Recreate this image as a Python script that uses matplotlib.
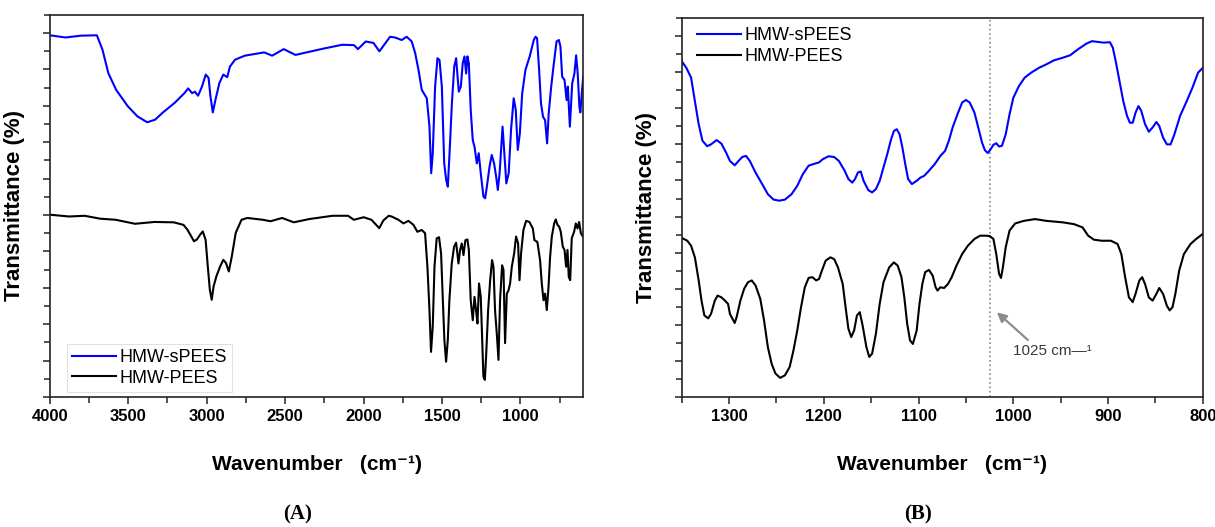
import matplotlib
matplotlib.use('Agg')
import matplotlib.pyplot as plt
from matplotlib.ticker import MultipleLocator, NullFormatter

plt.rcParams['font.family'] = ['Liberation Sans', 'DejaVu Sans']

# --- (A) full range spectra, 4000-600 cm-1 (offset transmittance, arb. units)
a_wn_spees = [4000, 3900, 3800, 3700, 3664, 3627, 3577, 3503, 3441, 3379, 3329, 3279, 3205, 3142,
              3118, 3093, 3075, 3055, 3030, 3006, 2988, 2976, 2961, 2944, 2919, 2894, 2869, 2852,
              2819, 2757, 2633, 2583, 2509, 2434, 2384, 2260, 2136, 2061, 2036, 1986, 1937, 1899,
              1831, 1800, 1757, 1725, 1693, 1671, 1650, 1629, 1597, 1580, 1569, 1559, 1544, 1529,
              1516, 1501, 1486, 1473, 1463, 1452, 1437, 1422, 1410, 1402, 1393, 1380, 1368, 1357,
              1346, 1338, 1329, 1317, 1304, 1293, 1278, 1266, 1253, 1236, 1225, 1214, 1197, 1183,
              1168, 1155, 1144, 1133, 1122, 1114, 1103, 1090, 1075, 1060, 1043, 1030, 1017, 1004,
              989, 968, 941, 915, 904, 894, 881, 869, 856, 843, 830, 820, 804, 787, 770, 755, 745,
              734, 719, 706, 698, 685, 670, 656, 645, 635, 624, 618, 609, 600]
a_t_spees = [9.94, 9.88, 9.93, 9.94, 9.54, 8.90, 8.44, 7.99, 7.71, 7.55, 7.62, 7.82, 8.08, 8.35,
             8.48, 8.35, 8.39, 8.28, 8.53, 8.86, 8.77, 8.26, 7.82, 8.17, 8.63, 8.86, 8.79, 9.08,
             9.27, 9.38, 9.47, 9.38, 9.56, 9.40, 9.45, 9.57, 9.68, 9.67, 9.56, 9.77, 9.73, 9.50,
             9.90, 9.88, 9.81, 9.90, 9.77, 9.45, 8.99, 8.44, 8.21, 7.43, 6.15, 6.70, 8.53, 9.31,
             9.26, 8.53, 6.42, 5.96, 5.78, 6.70, 8.07, 9.08, 9.31, 8.89, 8.39, 8.53, 9.17, 9.36,
             8.89, 9.36, 9.17, 7.89, 7.06, 6.88, 6.42, 6.70, 6.15, 5.51, 5.46, 5.78, 6.33, 6.65,
             6.42, 6.06, 5.69, 6.15, 6.88, 7.43, 6.70, 5.87, 6.15, 7.34, 8.21, 7.89, 6.79, 7.24,
             8.34, 8.99, 9.36, 9.81, 9.90, 9.86, 8.99, 8.07, 7.70, 7.61, 6.97, 7.79, 8.53, 9.17,
             9.77, 9.81, 9.63, 8.80, 8.71, 8.16, 8.53, 7.43, 8.62, 8.89, 9.39, 8.89, 7.96, 7.82,
             8.34, 8.80]

a_wn_pees = [4000, 3877, 3778, 3679, 3580, 3457, 3333, 3210, 3148, 3123, 3098, 3081, 3062, 3042,
             3025, 3007, 2993, 2980, 2968, 2956, 2938, 2914, 2894, 2877, 2859, 2840, 2815, 2778,
             2741, 2642, 2593, 2519, 2445, 2346, 2198, 2099, 2062, 1999, 1950, 1900, 1874, 1840,
             1821, 1778, 1746, 1714, 1682, 1657, 1629, 1608, 1593, 1580, 1570, 1559, 1548, 1534,
             1519, 1506, 1495, 1485, 1474, 1463, 1453, 1438, 1423, 1410, 1395, 1385, 1374, 1363,
             1351, 1338, 1329, 1317, 1304, 1293, 1283, 1274, 1264, 1253, 1244, 1236, 1227, 1219,
             1206, 1193, 1181, 1172, 1162, 1151, 1140, 1130, 1117, 1108, 1098, 1087, 1076, 1066,
             1055, 1040, 1028, 1015, 1006, 996, 981, 964, 943, 921, 911, 892, 875, 864, 853, 843,
             832, 821, 811, 800, 785, 775, 764, 753, 743, 730, 719, 709, 700, 692, 683, 673, 658,
             647, 636, 626, 615, 602]
a_t_pees = [5.01, 4.96, 4.98, 4.90, 4.87, 4.76, 4.81, 4.80, 4.73, 4.60, 4.41, 4.28, 4.33, 4.46,
            4.55, 4.32, 3.59, 2.95, 2.67, 3.04, 3.32, 3.59, 3.77, 3.68, 3.45, 3.86, 4.51, 4.87,
            4.92, 4.87, 4.83, 4.92, 4.80, 4.89, 4.98, 4.98, 4.87, 4.94, 4.87, 4.64, 4.85, 4.98,
            4.96, 4.87, 4.77, 4.84, 4.73, 4.54, 4.59, 4.50, 3.58, 2.39, 1.24, 1.94, 3.58, 4.36,
            4.39, 3.95, 2.66, 1.57, 0.97, 1.57, 2.66, 3.67, 4.13, 4.24, 3.67, 4.04, 4.22, 3.90,
            4.31, 4.33, 4.04, 2.66, 2.11, 2.75, 2.39, 2.02, 3.12, 2.75, 1.57, 0.56, 0.47, 1.11,
            2.39, 3.21, 3.76, 3.58, 2.39, 1.75, 1.02, 2.66, 3.62, 3.49, 1.48, 2.84, 2.93, 3.12,
            3.58, 3.95, 4.41, 4.22, 3.21, 3.95, 4.59, 4.84, 4.81, 4.63, 4.31, 4.26, 3.76, 3.12,
            2.66, 2.84, 2.39, 3.03, 3.85, 4.41, 4.77, 4.88, 4.73, 4.68, 4.54, 4.13, 4.04, 3.58,
            4.04, 3.30, 3.21, 4.36, 4.54, 4.77, 4.63, 4.81, 4.50, 4.41]

# --- (B) expanded 1350-800 cm-1 region
b_wn_spees = [1350, 1345, 1340, 1336, 1332, 1328, 1323, 1319, 1313, 1308, 1303, 1299, 1294, 1290,
              1286, 1282, 1278, 1272, 1265, 1259, 1253, 1247, 1241, 1234, 1228, 1222, 1216, 1209,
              1205, 1201, 1195, 1189, 1184, 1178, 1174, 1170, 1167, 1164, 1161, 1158, 1153, 1149,
              1145, 1141, 1137, 1133, 1129, 1126, 1123, 1120, 1117, 1114, 1111, 1107, 1102, 1098,
              1094, 1089, 1083, 1077, 1072, 1068, 1064, 1059, 1054, 1050, 1046, 1041, 1037, 1033,
              1030, 1027, 1024, 1021, 1018, 1015, 1012, 1008, 1004, 1000, 994, 988, 981, 973, 965,
              957, 948, 940, 932, 923, 917, 911, 905, 898, 895, 892, 888, 884, 880, 877, 874, 871,
              868, 865, 861, 857, 853, 849, 846, 842, 838, 834, 830, 824, 817, 811, 805, 800]
b_t_spees = [9.31, 9.12, 8.85, 8.20, 7.56, 7.10, 6.95, 7.00, 7.12, 7.02, 6.77, 6.54, 6.42, 6.54,
             6.65, 6.68, 6.54, 6.22, 5.90, 5.62, 5.47, 5.44, 5.47, 5.62, 5.85, 6.18, 6.41, 6.47,
             6.50, 6.59, 6.67, 6.65, 6.54, 6.27, 6.04, 5.94, 6.04, 6.22, 6.25, 5.99, 5.73, 5.67,
             5.76, 5.99, 6.36, 6.73, 7.14, 7.37, 7.42, 7.28, 6.91, 6.45, 6.04, 5.90, 5.99, 6.08,
             6.13, 6.27, 6.45, 6.68, 6.82, 7.10, 7.47, 7.83, 8.16, 8.23, 8.16, 7.88, 7.47, 7.05,
             6.84, 6.76, 6.86, 6.99, 7.03, 6.94, 6.96, 7.28, 7.83, 8.29, 8.62, 8.85, 8.99, 9.12,
             9.22, 9.33, 9.40, 9.47, 9.63, 9.79, 9.86, 9.84, 9.82, 9.83, 9.68, 9.31, 8.76, 8.20,
             7.79, 7.60, 7.60, 7.88, 8.06, 7.93, 7.56, 7.35, 7.47, 7.62, 7.51, 7.19, 7.00, 7.00,
             7.28, 7.79, 8.20, 8.57, 8.99, 9.12]

b_wn_pees = [1350, 1344, 1340, 1336, 1332, 1329, 1326, 1322, 1319, 1315, 1312, 1308, 1305, 1301,
             1299, 1294, 1292, 1288, 1284, 1280, 1276, 1272, 1267, 1263, 1259, 1255, 1251, 1246,
             1241, 1236, 1232, 1228, 1224, 1220, 1216, 1212, 1208, 1205, 1202, 1198, 1193, 1189,
             1185, 1180, 1177, 1174, 1171, 1168, 1165, 1162, 1159, 1155, 1152, 1149, 1145, 1141,
             1137, 1131, 1126, 1122, 1118, 1115, 1112, 1109, 1106, 1102, 1099, 1096, 1093, 1089,
             1085, 1082, 1080, 1077, 1073, 1069, 1065, 1060, 1054, 1048, 1041, 1035, 1029, 1025,
             1021, 1018, 1015, 1013, 1011, 1008, 1004, 998, 989, 977, 965, 948, 936, 927, 921,
             915, 907, 897, 890, 886, 882, 878, 874, 871, 867, 864, 861, 857, 853, 849, 846, 842,
             838, 835, 832, 829, 825, 820, 813, 807, 800]
b_t_pees = [4.41, 4.33, 4.19, 3.87, 3.23, 2.67, 2.26, 2.18, 2.30, 2.67, 2.81, 2.76, 2.69, 2.58,
            2.30, 2.05, 2.21, 2.67, 3.00, 3.18, 3.23, 3.09, 2.72, 2.12, 1.38, 0.92, 0.65, 0.53,
            0.60, 0.83, 1.29, 1.84, 2.49, 3.04, 3.30, 3.32, 3.23, 3.27, 3.50, 3.78, 3.87, 3.82,
            3.59, 3.13, 2.49, 1.89, 1.66, 1.84, 2.26, 2.35, 1.98, 1.38, 1.11, 1.20, 1.75, 2.58,
            3.18, 3.59, 3.73, 3.64, 3.32, 2.76, 2.03, 1.57, 1.47, 1.84, 2.58, 3.13, 3.46, 3.52,
            3.36, 3.04, 2.95, 3.04, 3.02, 3.13, 3.32, 3.64, 3.96, 4.19, 4.38, 4.47, 4.47, 4.46,
            4.38, 3.96, 3.41, 3.30, 3.59, 4.15, 4.61, 4.81, 4.88, 4.93, 4.88, 4.84, 4.79, 4.70,
            4.47, 4.36, 4.33, 4.33, 4.24, 3.96, 3.32, 2.76, 2.63, 2.86, 3.23, 3.32, 3.13, 2.76,
            2.67, 2.86, 3.02, 2.86, 2.53, 2.40, 2.49, 2.86, 3.50, 3.96, 4.24, 4.38, 4.52]

MARK_WN = 1025
LABELS = ['HMW-sPEES', 'HMW-PEES']
BLUE = '#0000ff'
BLACK = '#000000'


def style_axes(ax, xlim, major, minor):
    ax.set_xlim(*xlim)
    ax.set_ylim(0, 10.5)
    ax.xaxis.set_major_locator(MultipleLocator(major))
    ax.xaxis.set_minor_locator(MultipleLocator(minor))
    ax.yaxis.set_major_locator(MultipleLocator(1))
    ax.yaxis.set_minor_locator(MultipleLocator(0.5))
    ax.yaxis.set_major_formatter(NullFormatter())
    ax.tick_params(which='both', direction='out', top=False, right=False, color='#222222', width=1.1)
    ax.tick_params(which='major', length=5, labelsize=12, pad=4)
    ax.tick_params(which='minor', length=4)
    for lab in ax.get_xticklabels():
        lab.set_fontweight('bold')
    for sp in ax.spines.values():
        sp.set_linewidth(1.2)
        sp.set_color('#222222')
    ax.set_xlabel('Wavenumber   (cm\u207b\u00b9)', fontsize=15, fontweight='bold', labelpad=22)
    ax.set_ylabel('Transmittance (%)', fontsize=16, fontweight='bold', labelpad=9)


fig = plt.figure(figsize=(12.15, 5.27), dpi=100)
ax_a = fig.add_axes([0.041, 0.2467, 0.439, 0.725])
ax_b = fig.add_axes([0.561, 0.2467, 0.429, 0.719])

ax_a.plot(a_wn_spees, a_t_spees, color=BLUE, lw=1.5, label=LABELS[0])
ax_a.plot(a_wn_pees, a_t_pees, color=BLACK, lw=1.5, label=LABELS[1])
style_axes(ax_a, (4000, 600), 500, 250)
leg = ax_a.legend(loc='lower left', bbox_to_anchor=(0.032, 0.013), borderaxespad=0,
                  fontsize=13, handlelength=2.4, handletextpad=0.2, labelspacing=0.2,
                  borderpad=0.3, fancybox=False, framealpha=1)
leg.get_frame().set_edgecolor('#e2e2e2')
leg.get_frame().set_linewidth(0.8)

ax_b.plot(b_wn_spees, b_t_spees, color=BLUE, lw=1.5, label=LABELS[0])
ax_b.plot(b_wn_pees, b_t_pees, color=BLACK, lw=1.5, label=LABELS[1])
style_axes(ax_b, (1350, 800), 100, 50)
ax_b.axvline(MARK_WN, color='#888888', ls=':', lw=1.2, zorder=0)
ax_b.legend(loc='upper left', bbox_to_anchor=(0.02, 0.99), borderaxespad=0, fontsize=13,
            handlelength=2.4, handletextpad=0.2, labelspacing=0.2, borderpad=0.3, frameon=False)
ax_b.annotate('', xy=(1019.5, 2.40), xytext=(982.5, 1.53),
              arrowprops=dict(arrowstyle='-|>', color='#8c8c8c', lw=1.6, mutation_scale=14))
ax_b.text(1000.5, 1.27, '1025 cm\u2014\u00b9', ha='left', va='center', fontsize=11, color='#3a3a3a')

fig.text(298 / 1215, 1 - 514 / 527, '(A)', ha='center', va='center', fontsize=15,
         fontweight='bold', family='Liberation Serif')
fig.text(918 / 1215, 1 - 514 / 527, '(B)', ha='center', va='center', fontsize=15,
         fontweight='bold', family='Liberation Serif')

fig.savefig('out.png', dpi=100)
